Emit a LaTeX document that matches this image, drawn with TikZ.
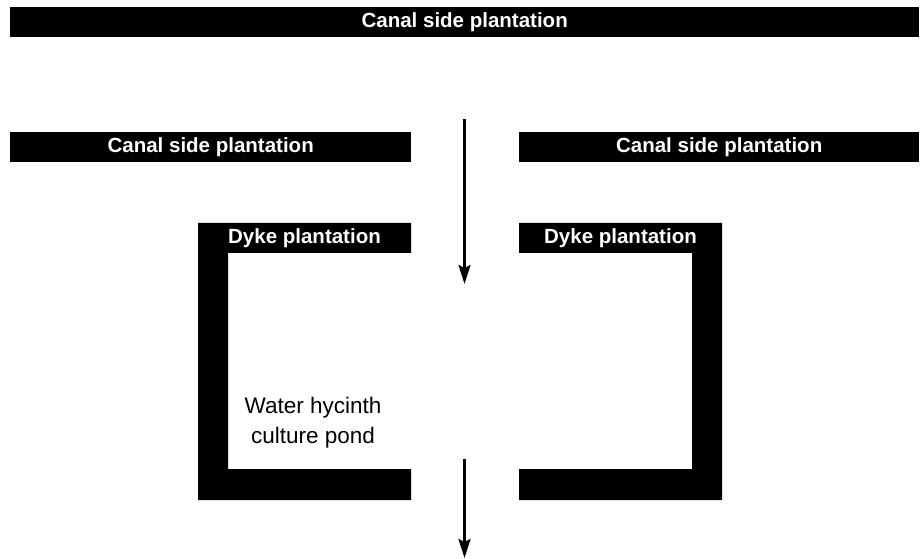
\documentclass[tikz,border=0pt]{standalone}
\usepackage{fontspec}
\setmainfont{Liberation Sans}
\usetikzlibrary{arrows.meta}
\begin{document}
\begin{tikzpicture}[x=1bp,y=-1bp,
  bar/.style={fill=black,draw=none,text=white,font=\bfseries\fontsize{20.5bp}{23bp}\selectfont,inner sep=0pt,minimum height=30bp,anchor=north west},
  lbl/.style={text=white,font=\bfseries\fontsize{20.5bp}{23bp}\selectfont,inner sep=0pt},
  wall/.style={fill=black,draw=none},
  flow/.style={line width=2.6bp,-{Stealth[length=19bp,width=12bp,inset=3bp]}}]
\useasboundingbox (0,0) rectangle (920,559);
% canal bars
\node[bar,minimum width=909bp] (top) at (10,7) {Canal side plantation};
\node[bar,minimum width=401bp] (cl) at (10,132) {Canal side plantation};
\node[bar,minimum width=400bp] (cr) at (519,132) {Canal side plantation};
% left dyke
\path[wall] (198,223) -- (411,223) -- (411,253) -- (228,253) -- (228,469) -- (411,469) -- (411,500) -- (198,500) -- cycle;
\node[lbl] (dl) at (304.5,238.5) {Dyke plantation};
% right dyke
\path[wall] (722,223) -- (519,223) -- (519,253) -- (692,253) -- (692,469) -- (519,469) -- (519,500) -- (722,500) -- cycle;
\node[lbl] (dr) at (620.5,238.5) {Dyke plantation};
% pond label
\node[align=center,font=\fontsize{22.5bp}{30bp}\selectfont,inner sep=0pt] (pond) at (313,423) {Water hycinth\\culture pond};
% flow arrows
\coordinate (a1s) at (464.5,119);
\coordinate (a1e) at (464.5,284);
\coordinate (a2s) at (464.5,459);
\coordinate (a2e) at (464.5,558);
\draw[flow] (a1s) -- (a1e);
\draw[flow] (a2s) -- (a2e);
\end{tikzpicture}
\end{document}
